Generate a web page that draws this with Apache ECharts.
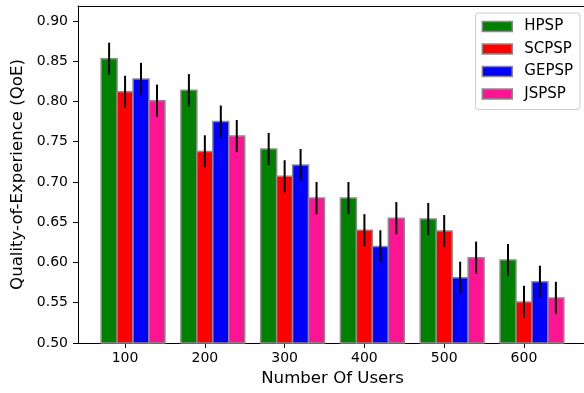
<!DOCTYPE html>
<html lang="en">
<head>
    <meta charset="UTF-8">
    <title>QoE vs Number Of Users</title>
    <script src="https://cdn.jsdelivr.net/npm/echarts@6/dist/echarts.min.js"></script>
    <style>
        html, body { margin: 0; padding: 0; background: #fff; }
        #main { width: 584px; height: 393px; }
    </style>
</head>
<body>
<div id="main"></div>
<script>
    // data
    var users = [100, 200, 300, 400, 500, 600];
    var seriesNames = ['HPSP', 'SCPSP', 'GEPSP', 'JSPSP'];
    var hpsp  = [0.853, 0.814, 0.741, 0.680, 0.654, 0.603];
    var scpsp = [0.812, 0.738, 0.707, 0.640, 0.639, 0.551];
    var gepsp = [0.828, 0.775, 0.721, 0.620, 0.581, 0.576];
    var jspsp = [0.801, 0.757, 0.680, 0.655, 0.606, 0.556];
    var hpspErr  = [0.020, 0.020, 0.020, 0.020, 0.020, 0.020];
    var scpspErr = [0.020, 0.020, 0.020, 0.020, 0.020, 0.020];
    var gepspErr = [0.020, 0.020, 0.020, 0.020, 0.020, 0.020];
    var jspspErr = [0.020, 0.020, 0.020, 0.020, 0.020, 0.020];
    var yTicks = [0.50, 0.55, 0.60, 0.65, 0.70, 0.75, 0.80, 0.85, 0.90];

    var values = [hpsp, scpsp, gepsp, jspsp];
    var errors = [hpspErr, scpspErr, gepspErr, jspspErr];
    var colors = ['#008000', '#ff0000', '#0000ff', '#ff1493'];

    // bar layout in x-axis units
    var barW = 20;
    var offsets = [-20, 0, 20, 40];
    var yMin = 0.5;
    var xMin = 41, xMax = 679;

    function renderItem(params, api) {
        var i = params.seriesIndex;
        var x = api.value(0) + offsets[i];
        var y = api.value(1);
        var e = api.value(2);
        var p0 = api.coord([x - barW / 2, y]);
        var p1 = api.coord([x + barW / 2, yMin]);
        var top = api.coord([x, y + e]);
        var bot = api.coord([x, y - e]);
        return {
            type: 'group',
            children: [
                {
                    type: 'rect',
                    shape: { x: p0[0], y: p0[1], width: p1[0] - p0[0], height: p1[1] - p0[1] },
                    style: { fill: api.visual('color'), stroke: '#8c8c8c', lineWidth: 1.5 }
                },
                {
                    type: 'line',
                    shape: { x1: top[0], y1: top[1], x2: bot[0], y2: bot[1] },
                    style: { stroke: '#000', lineWidth: 2 },
                    z2: 10
                }
            ]
        };
    }

    var series = [];
    for (var i = 0; i < seriesNames.length; i++) {
        var data = [];
        for (var j = 0; j < users.length; j++) {
            data.push([users[j], values[i][j], errors[i][j]]);
        }
        series.push({
            name: seriesNames[i],
            type: 'custom',
            renderItem: renderItem,
            itemStyle: { color: colors[i] },
            encode: { x: 0, y: 1 },
            data: data
        });
    }

    var font = 'DejaVu Sans';
    var myChart = echarts.init(document.getElementById('main'));
    var option = {
        animation: false,
        backgroundColor: '#fff',
        textStyle: { fontFamily: font, color: '#000' },
        grid: {
            left: 78, top: 6, right: -3, bottom: 50,
            outerBoundsMode: 'none',
            show: false
        },
        legend: {
            orient: 'vertical',
            right: 4,
            top: 13,
            icon: 'rect',
            itemWidth: 30,
            itemHeight: 10,
            itemGap: 7.5,
            padding: [6, 7, 8, 6],
            borderColor: '#ccc',
            borderWidth: 1,
            borderRadius: 3,
            backgroundColor: 'rgba(255,255,255,0.8)',
            itemStyle: { borderColor: '#8c8c8c', borderWidth: 1.5 },
            textStyle: { fontFamily: font, fontSize: 15, color: '#000', padding: [0, 0, 0, 7] },
            data: seriesNames
        },
        xAxis: [{
            type: 'value',
            min: xMin,
            max: xMax,
            name: 'Number Of Users',
            nameLocation: 'middle',
            nameGap: 27,
            nameTextStyle: { fontFamily: font, fontSize: 16.6, color: '#000' },
            splitLine: { show: false },
            axisLine: { onZero: false, lineStyle: { color: '#000', width: 1 } },
            axisTick: { show: true, length: 5, lineStyle: { color: '#000' }, customValues: users },
            axisLabel: { fontFamily: font, fontSize: 14, color: '#000', margin: 8, customValues: users }
        }, {
            // top spine only
            type: 'value',
            position: 'top',
            min: xMin,
            max: xMax,
            splitLine: { show: false },
            axisLine: { show: true, onZero: false, lineStyle: { color: '#000', width: 1 } },
            axisTick: { show: false },
            axisLabel: { show: false }
        }],
        yAxis: {
            type: 'value',
            min: yMin,
            max: 0.9186,
            name: 'Quality-of-Experience (QoE)',
            nameLocation: 'middle',
            nameGap: 50,
            nameTextStyle: { fontFamily: font, fontSize: 16.6, color: '#000' },
            splitLine: { show: false },
            axisLine: { show: true, onZero: false, lineStyle: { color: '#000', width: 1 } },
            axisTick: { show: true, length: 5, lineStyle: { color: '#000' }, customValues: yTicks },
            axisLabel: {
                fontFamily: font, fontSize: 14, color: '#000', margin: 10,
                customValues: yTicks,
                formatter: function (v) { return v.toFixed(2); }
            }
        },
        series: series
    };
    myChart.setOption(option);
</script>
</body>
</html>
